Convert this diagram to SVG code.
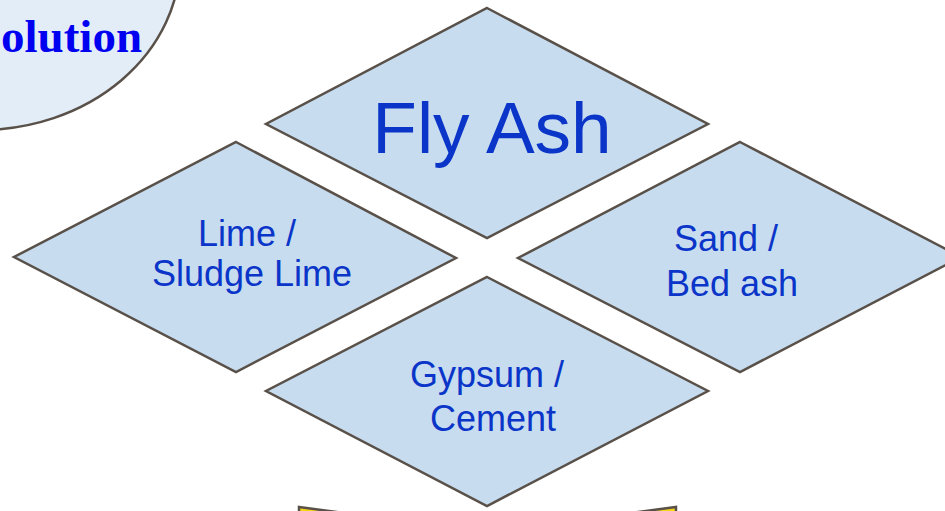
<svg xmlns="http://www.w3.org/2000/svg" width="945" height="511" viewBox="0 0 945 511">
<style>
.d{fill:#c7dcef;stroke:#595149;stroke-width:2.5;stroke-linejoin:miter}
.t{font-family:"Liberation Sans",Arial,sans-serif;fill:#0a35c8;text-anchor:middle}
</style>
<rect width="945" height="511" fill="#ffffff"/>
<g id="solution">
<ellipse cx="-20" cy="-40" rx="200" ry="170" fill="#e3edf7" stroke="#595149" stroke-width="2.5"/>
<text x="1" y="52" font-family="'Liberation Serif','Times New Roman',serif" font-weight="bold" font-size="47" fill="#0000f0">olution</text>
</g>
<g id="arrow">
<polygon points="299,507 487,532 676,507 676,530 299,530" fill="#f7d416" stroke="#595149" stroke-width="2.5"/>
</g>
<g id="flyash">
<polygon class="d" points="487,8 708,124 487,238 266,124"/>
<text class="t" x="492" y="153" font-size="73">Fly Ash</text>
</g>
<g id="lime">
<polygon class="d" points="236,142 456,258 236,372 14,257"/>
<text class="t" font-size="36"><tspan x="247" y="246">Lime /</tspan><tspan x="252" y="286">Sludge Lime</tspan></text>
</g>
<g id="sand">
<polygon class="d" points="740,142 961,257 740,372 518,258"/>
<text class="t" font-size="36"><tspan x="726" y="251">Sand /</tspan><tspan x="732" y="296">Bed ash</tspan></text>
</g>
<g id="gypsum">
<polygon class="d" points="487,277 708,391 487,506 266,391"/>
<text class="t" font-size="36"><tspan x="487" y="387">Gypsum /</tspan><tspan x="493" y="431">Cement</tspan></text>
</g>
<g id="connectors"></g>
</svg>
